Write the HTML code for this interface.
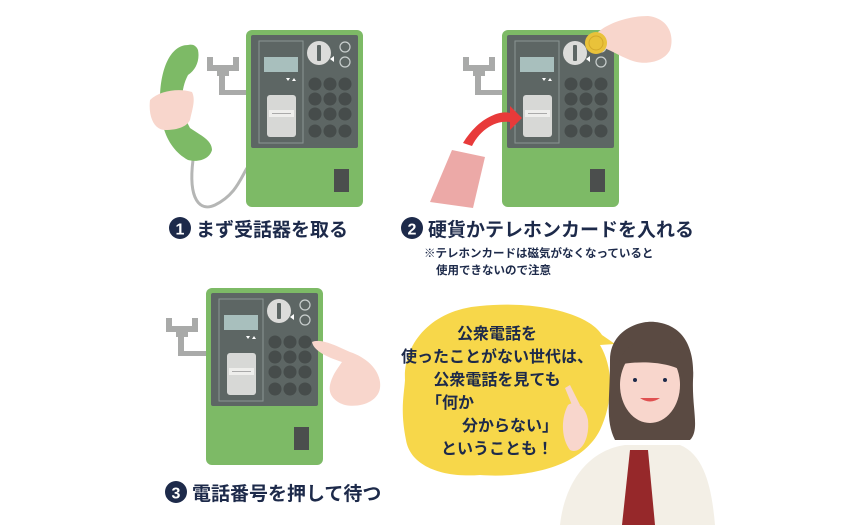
<!DOCTYPE html>
<html><head><meta charset="utf-8"><style>
html,body{margin:0;padding:0;background:#fff;}
svg{display:block;}
text{font-family:"Liberation Sans","Noto Sans CJK JP",sans-serif;font-weight:bold;fill:#1d2a4a;}
</style></head><body>
<svg width="850" height="525" viewBox="0 0 850 525" xmlns="http://www.w3.org/2000/svg">
<defs>
<g id="phone">
  <rect x="0" y="0" width="117" height="177" rx="6" fill="#7dba66"/>
  <rect x="5" y="5" width="107" height="113" rx="2" fill="#5d6664"/>
  <rect x="13" y="11" width="44" height="102" fill="none" stroke="#8a9593" stroke-width="1"/>
  <rect x="18" y="27" width="34" height="15" fill="#a8bfbd"/>
  <path d="M40 48 l4 0 l-2 3z M46 51 l4 0 l-2 -3z" fill="#fff"/>
  <rect x="21" y="65" width="29" height="42" rx="3" fill="#d7d8d6"/>
  <rect x="23" y="80" width="25" height="7" fill="#eeeeec"/>
  <line x1="26" y1="83.5" x2="45" y2="83.5" stroke="#aaa" stroke-width="1"/>
  <circle cx="73" cy="23" r="12" fill="#dcdcda"/>
  <rect x="71" y="15" width="4" height="16" rx="1" fill="#5d6664"/>
  <path d="M88 26 l-4 3 l4 3z" fill="#fff"/>
  <circle cx="99" cy="17" r="5" fill="none" stroke="#c9cfce" stroke-width="1.2"/>
  <circle cx="99" cy="32" r="5" fill="none" stroke="#c9cfce" stroke-width="1.2"/>
  <g fill="#464c4b">
    <circle cx="69" cy="54" r="6.5"/><circle cx="84" cy="54" r="6.5"/><circle cx="99" cy="54" r="6.5"/>
    <circle cx="69" cy="69" r="6.5"/><circle cx="84" cy="69" r="6.5"/><circle cx="99" cy="69" r="6.5"/>
    <circle cx="69" cy="84" r="6.5"/><circle cx="84" cy="84" r="6.5"/><circle cx="99" cy="84" r="6.5"/>
    <circle cx="69" cy="101" r="6.5"/><circle cx="84" cy="101" r="6.5"/><circle cx="99" cy="101" r="6.5"/>
  </g>
  <rect x="88" y="139" width="15" height="23" fill="#4b4e4d"/>
</g>
<g id="hook" fill="#a9aaa9">
  <path d="M0 0 h6 v8 h20 v-8 h6 v14 h-10 v5 h-4 v14 h23 v5 h-29 v-19 h-2 v-5 h-10z"/>
</g>
</defs>

<!-- Phone 1 -->
<use href="#hook" x="207" y="57"/>
<path d="M193 160 C188 200, 200 212, 215 205 C235 195, 240 180, 247 168" fill="none" stroke="#b5b6b5" stroke-width="3"/>
<path d="M188 45 C170 45,160 70,160 100 C160 130,170 150,188 160 C200 163,210 158,212 150 C212 140,200 135,190 128 C180 110,180 90,188 75 C196 70,200 60,198 50 C196 45,192 44,188 45Z" fill="#7dba66"/>
<path d="M150 100 C160 90,180 88,192 92 C196 100,192 110,190 120 C186 128,175 130,165 130 C155 130,148 118,150 100Z" fill="#f8d6cc"/>
<use href="#phone" x="246" y="30"/>
<circle cx="180" cy="228" r="11" fill="#1d2a4a"/>
<text x="180" y="234.5" font-size="16" text-anchor="middle" style="fill:#fff">1</text>
<text x="196" y="236" font-size="19">まず受話器を取る</text>

<!-- Phone 2 -->
<use href="#hook" x="463" y="57"/>
<use href="#phone" x="502" y="30"/>
<path d="M452 150 L485 157 L473 208 L430 202Z" fill="#eca9a7"/>
<path d="M463 143 C478 118,500 110,510 113 L510 106 L522 118 L510 130 L510 122 C495 120,480 130,472 146Z" fill="#e83a3a"/>
<path d="M598 32 C610 22,630 16,648 16 C668 18,675 35,670 50 C664 62,645 66,630 60 C620 56,610 50,600 46Z" fill="#f8d6cc"/>
<circle cx="596" cy="43" r="11" fill="#e9c23a"/>
<circle cx="596" cy="43" r="7" fill="none" stroke="#d4a82a" stroke-width="1"/>
<circle cx="412" cy="228" r="11" fill="#1d2a4a"/>
<text x="412" y="234.5" font-size="16" text-anchor="middle" style="fill:#fff">2</text>
<text x="428" y="236" font-size="19">硬貨かテレホンカードを入れる</text>
<text x="424" y="257" font-size="11.5">※テレホンカードは磁気がなくなっていると</text>
<text x="436" y="274" font-size="11.5">使用できないので注意</text>

<!-- Phone 3 -->
<use href="#hook" x="166" y="318"/>
<use href="#phone" x="206" y="288"/>
<path d="M312 342 C320 338,335 345,350 352 C368 358,382 372,380 388 C378 402,360 408,345 405 C335 402,328 395,330 385 C332 375,338 368,342 362 C330 358,314 352,312 342Z" fill="#f8d6cc"/>
<circle cx="176" cy="492" r="11" fill="#1d2a4a"/>
<text x="176" y="498.5" font-size="16" text-anchor="middle" style="fill:#fff">3</text>
<text x="192" y="500" font-size="19">電話番号を押して待つ</text>

<!-- Bubble -->
<path d="M480 306 C540 300,590 315,602 335 L615 344 L600 345 C615 370,612 405,600 430 C580 470,520 478,480 475 C440 478,410 465,406 440 C400 410,404 395,405 380 C403 345,430 310,480 306Z" fill="#f7d74a"/>
<g font-size="16" text-anchor="middle">
<text x="497" y="339">公衆電話を</text>
<text x="497" y="362">使ったことがない世代は、</text>
<text x="497" y="385">公衆電話を見ても</text>
<text x="450" y="408">「何か</text>
<text x="510" y="431">分からない」</text>
<text x="497" y="454">ということも！</text>
</g>

<!-- Woman -->
<path d="M610 360 C610 330,640 320,655 322 C685 325,695 350,693 380 C692 410,700 430,690 440 L615 440 C605 420,610 400,610 360Z" fill="#5a4a42"/>
<ellipse cx="650" cy="385" rx="30" ry="38" fill="#f8d6cc"/>
<path d="M618 365 C625 340,650 335,670 342 C682 350,685 360,684 372 C670 362,640 360,618 365Z" fill="#5a4a42"/>
<circle cx="635" cy="380" r="2" fill="#1d2a4a"/><circle cx="665" cy="380" r="2" fill="#1d2a4a"/>
<path d="M640 398 Q650 405 660 398 Z" fill="#e05050"/>
<path d="M560 525 C565 480,590 450,625 445 L680 445 C705 455,712 490,715 525Z" fill="#f3efe6"/>
<path d="M630 450 L648 450 L655 525 L622 525Z" fill="#96282a"/>
<path d="M568 405 C575 400,585 405,588 420 C590 440,580 455,570 450 C562 440,560 420,568 405Z" fill="#f8d6cc"/>
<path d="M572 405 L565 388 L570 385 L580 405Z" fill="#f8d6cc"/>
</svg>
</body></html>
